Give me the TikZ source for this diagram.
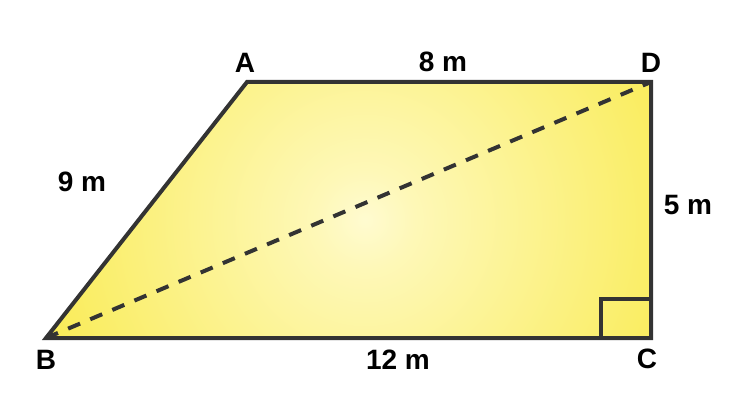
\documentclass[tikz,border=0pt]{standalone}
\usepackage{fontspec}
\setmainfont{Liberation Sans}
\definecolor{yel}{HTML}{F7E62A}
\definecolor{pale}{HTML}{FFFBD0}
\definecolor{edge}{HTML}{333333}
\pgfdeclareradialshading{trapshade}{\pgfpoint{0bp}{0bp}}{color(0bp)=(pale); color(3bp)=(pale!85!yel); color(28bp)=(yel); color(50bp)=(yel)}
\begin{document}
\begin{tikzpicture}[x=1pt,y=-1pt,
  lbl/.style={font=\bfseries\fontsize{28}{32}\selectfont, text=black, inner sep=0pt},
  side/.style={draw=edge, line width=4pt, line join=miter},
  diag/.style={draw=edge, line width=4pt, dash pattern=on 13pt off 11pt}]
\useasboundingbox (0,0) rectangle (750,417);
\coordinate (A) at (247,82);
\coordinate (D) at (651,82);
\coordinate (C) at (651,338);
\coordinate (B) at (46,338);
\begin{scope}
\clip (A) -- (D) -- (C) -- (B) -- cycle;
\fill[yel] (A) -- (D) -- (C) -- (B) -- cycle;
\shade[shading=trapshade] (365,220) circle (420);
\end{scope}
\draw[diag] (B) -- (D);
\coordinate (S1) at (601,338);
\coordinate (S2) at (601,299);
\coordinate (S3) at (651,299);
\draw[side] (S1) -- (S2) -- (S3);
\draw[side] (A) -- (D) -- (C) -- (B) -- cycle;
\node[lbl] (lA) at (245,63) {A};
\node[lbl] (lD) at (651,63) {D};
\node[lbl] (lB) at (46,360) {B};
\node[lbl] (lC) at (647,359) {C};
\node[lbl] (l8) at (443,62) {8 m};
\node[lbl] (l9) at (82,182) {9 m};
\node[lbl] (l5) at (688,205) {5 m};
\node[lbl] (l12) at (398,360) {12 m};
\end{tikzpicture}
\end{document}
